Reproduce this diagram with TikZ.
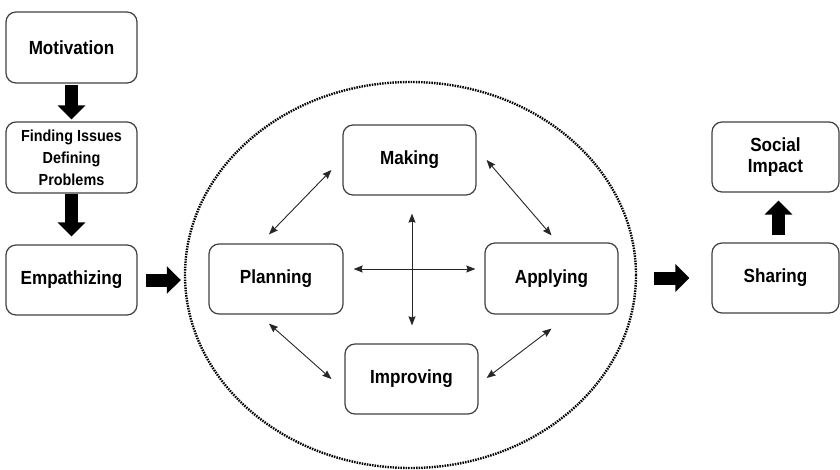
\documentclass[tikz,border=0pt]{standalone}
\usepackage{fontspec}
\setmainfont{Liberation Sans}[FakeStretch=0.9]
\usetikzlibrary{arrows.meta,shapes.geometric}

\tikzset{
  stage/.style={draw=black!75, line width=1.2pt, rounded corners=10pt,
    minimum width=131pt, minimum height=71pt, inner sep=0pt, align=center,
    font=\bfseries\fontsize{19}{21}\selectfont},
  loopring/.style={ellipse, draw=black, line width=2.4pt,
    dash pattern=on 1.5pt off 1.1pt},
  blockarrow/.style={line width=13pt, -{Triangle[length=14pt,width=27pt]}},
  linkarrow/.style={line width=0.9pt, black!85,
    {Stealth[length=9pt,width=7pt,inset=1pt]}-{Stealth[length=9pt,width=7pt,inset=1pt]}}
}

\begin{document}
\begin{tikzpicture}[x=1pt, y=-1pt]
\useasboundingbox (0,0) rectangle (840,469);

% Left column
\node[stage] (mot) at (71.5,47.5) {Motivation};
\node[stage, font=\bfseries\fontsize{16}{22}\selectfont] (find) at (71.5,157.5) {Finding Issues\\Defining\\Problems};
\node[stage, minimum height=70pt] (emp) at (71.5,280) {Empathizing};

% Cycle
\node[loopring, minimum width=451pt, minimum height=386pt] (cycle) at (410.5,275) {};
\node[stage, minimum width=133pt, minimum height=70pt] (mak) at (409.5,160) {Making};
\node[stage, minimum width=134pt, minimum height=70pt] (plan) at (276,279) {Planning};
\node[stage, minimum width=133pt] (app) at (551.5,278.5) {Applying};
\node[stage, minimum width=133pt, minimum height=70pt] (imp) at (411.5,379) {Improving};

% Right column
\node[stage, minimum width=127pt, minimum height=70pt] (sha) at (775.5,278) {Sharing};
\node[stage, minimum width=127pt, minimum height=70pt] (soc) at (775.5,157) {Social\\Impact};

% Block arrows
\draw[blockarrow, shorten <=1pt, shorten >=2pt] (mot) -- (find);
\draw[blockarrow, shorten <=0.5pt, shorten >=8pt] (find) -- (emp);
\draw[blockarrow, shorten <=8pt, shorten >=3pt] (emp.east) -- (emp.east -| cycle.west);
\draw[blockarrow, shorten <=17pt, shorten >=22pt] (sha.west -| cycle.east) -- (sha.west);
\draw[blockarrow, shorten <=7pt, shorten >=8pt] ([xshift=3pt]sha.north) -- ([xshift=3pt]soc.south);

% Links inside the cycle
\draw[linkarrow] ([xshift=-7pt,yshift=9pt]plan.north) -- ([xshift=-11pt,yshift=-10pt]mak.west);
\draw[linkarrow] ([xshift=10pt]mak.east) -- ([yshift=7pt]app.north);
\draw[linkarrow] ([xshift=-7pt,yshift=-9pt]plan.south) -- ([xshift=-13pt]imp.west);
\draw[linkarrow] ([yshift=-14pt]app.south) -- ([xshift=8pt,yshift=1pt]imp.east);
\draw[linkarrow] ([xshift=2.5pt,yshift=-18pt]mak.south) -- ([xshift=0.5pt,yshift=18pt]imp.north);
\draw[linkarrow] ([xshift=10pt,yshift=10pt]plan.east) -- ([xshift=-9pt,yshift=9.5pt]app.west);

\end{tikzpicture}
\end{document}
